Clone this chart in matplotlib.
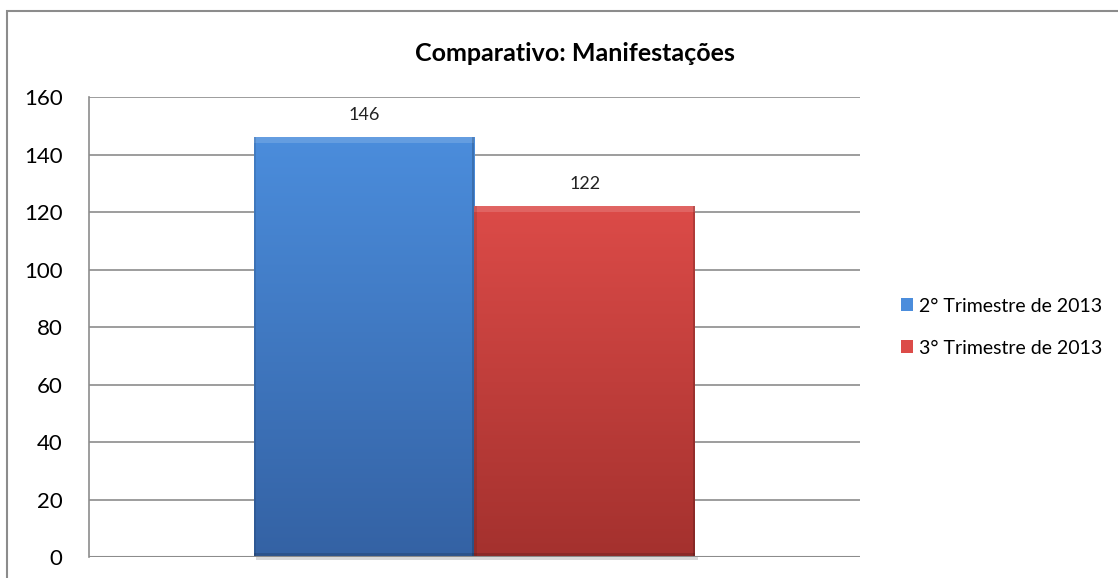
import matplotlib.pyplot as plt
import numpy as np
from matplotlib.patches import Patch, Rectangle
from matplotlib.colors import LinearSegmentedColormap

plt.rcParams['font.family'] = ['Lato', 'DejaVu Sans']

series = ['2° Trimestre de 2013', '3° Trimestre de 2013']
values = [146, 122]
top_colors = ['#4b8ddc', '#dc4b48']
bottom_colors = ['#3462a4', '#a4312e']
title = 'Comparativo: Manifestações'

fig = plt.figure(figsize=(11.18, 5.78), dpi=100)
ax = fig.add_axes([0.0796, 0.0363, 0.6896, 0.7958])

width = 0.2866
positions = [-width / 2, width / 2]

bars = ax.bar(positions, values, width=width, color='none', zorder=3)
for bar, c_top, c_bot in zip(bars, top_colors, bottom_colors):
    x0, y0 = bar.get_x(), bar.get_y()
    w, h = bar.get_width(), bar.get_height()
    cmap = LinearSegmentedColormap.from_list('g', [c_bot, c_top])
    grad = np.linspace(0, 1, 256).reshape(-1, 1)
    ax.imshow(grad, cmap=cmap, origin='lower', aspect='auto',
              extent=[x0, x0 + w, y0, y0 + h], zorder=3)
    # soft bevel: light top rim, darker side and bottom rims, shadow below
    ax.add_patch(Rectangle((x0, y0 + h - 2.0), w, 2.0, color='white', alpha=0.15, lw=0, zorder=4))
    ax.add_patch(Rectangle((x0, y0), w * 0.012, h, color='black', alpha=0.10, lw=0, zorder=4))
    ax.add_patch(Rectangle((x0 + w * 0.988, y0), w * 0.012, h, color='black', alpha=0.18, lw=0, zorder=4))
    ax.add_patch(Rectangle((x0, y0), w, 1.5, color='black', alpha=0.15, lw=0, zorder=4))
    ax.add_patch(Rectangle((x0 + w * 0.01, y0 - 1.2), w, 1.2, color='black', alpha=0.15, lw=0,
                           zorder=2, clip_on=False))
    ax.annotate(str(int(h)), (x0 + w / 2, h), xytext=(0, 10), textcoords='offset points',
                ha='center', va='bottom', fontsize=13, color='#222222')

ax.set_xlim(-0.5, 0.5)
ax.set_ylim(0, 160)
ax.set_yticks(range(0, 161, 20))
ax.set_xticks([])
ax.tick_params(axis='y', length=0, labelsize=16, pad=19)
ax.yaxis.grid(True, color='#8c8c8c', lw=1.2, zorder=0)
ax.set_axisbelow(True)
for s in ['top', 'right', 'bottom']:
    ax.spines[s].set_visible(False)
ax.spines['left'].set_color('#8c8c8c')
ax.spines['left'].set_linewidth(1.2)
ax.axhline(0, color='#8c8c8c', lw=1.5, zorder=5)

fig.text(0.514, 0.907, title, ha='center', va='center', fontsize=18, fontweight='bold')

handles = [Patch(facecolor=c, edgecolor='none') for c in top_colors]
fig.legend(handles, series, loc='center left', bbox_to_anchor=(0.790, 0.434), frameon=False,
           fontsize=14, handlelength=0.65, handleheight=0.65, handletextpad=0.3, labelspacing=1.3)

fig.add_artist(Rectangle((7 / 1118, -0.1), 1.2, 1.1 - 11 / 578, transform=fig.transFigure,
                         fill=False, edgecolor='#8c8c8c', lw=1.5))

fig.savefig('out.png', dpi=100)
